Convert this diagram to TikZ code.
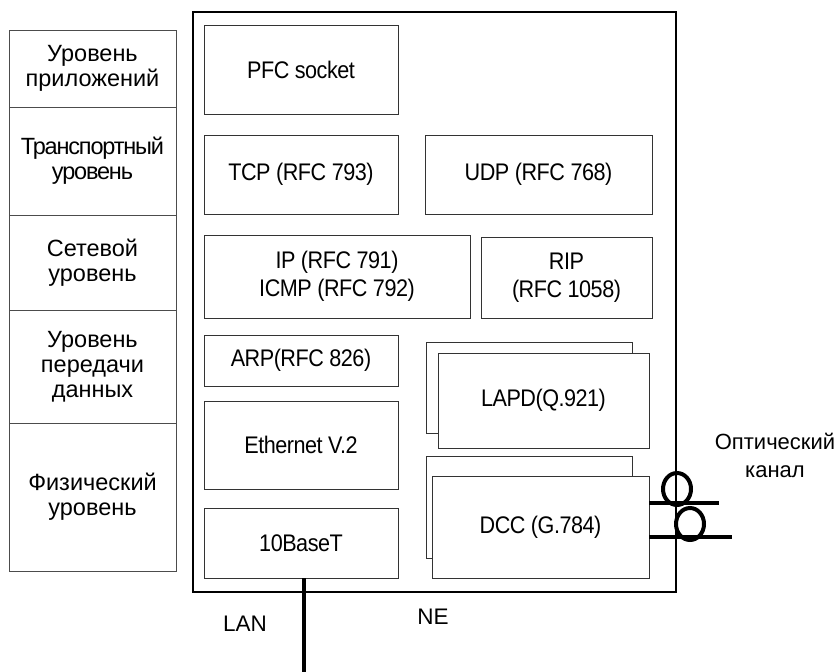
\documentclass[tikz,border=0pt]{standalone}
\usepackage{fontspec}
\setmainfont{Liberation Sans}
\newfontfamily\condfont[FakeStretch=0.9,LetterSpace=-2]{Liberation Sans}
\newfontfamily\tightfont[LetterSpace=-5]{Liberation Sans}
\begin{document}
\begin{tikzpicture}[x=1pt,y=-1pt,
  lay/.style={draw=black!70, line width=0.9pt, rectangle, inner sep=0pt, align=center,
    font=\fontsize{23.5}{25}\selectfont},
  blk/.style={draw=black!80, line width=0.9pt, rectangle, inner sep=0pt, align=center, fill=white,
    font=\condfont\fontsize{24}{28}\selectfont},
  ne/.style={draw=black, line width=1.2pt, rectangle, inner sep=0pt},
  fiber/.style={line width=4.2pt},
  lbl/.style={font=\fontsize{22.5}{24}\selectfont, align=center, inner sep=0pt}]
\useasboundingbox (0,0) rectangle (838,672);
% left column of layers
\node[lay, minimum width=167pt, minimum height=77pt]  (l1) at (92.5,68.5) {Уровень\\приложений};
\node[lay, minimum width=167pt, minimum height=108pt, font=\tightfont\fontsize{23.5}{25}\selectfont] (l2) at (92.5,161)  {Транспортный\\уровень};
\node[lay, minimum width=167pt, minimum height=95pt]  (l3) at (92.5,262.5) {Сетевой\\уровень};
\node[lay, minimum width=167pt, minimum height=113pt] (l4) at (92.5,366.5) {Уровень\\передачи\\данных};
\node[lay, minimum width=167pt, minimum height=148pt] (l5) at (92.5,497)  {Физический\\уровень};
% NE box
\node[ne, minimum width=483pt, minimum height=580pt] (ne) at (434.5,302) {};
% blocks
\node[blk, minimum width=194pt, minimum height=89pt] (pfc) at (301,69.5) {PFC socket};
\node[blk, minimum width=194pt, minimum height=79pt] (tcp) at (301,174.5) {TCP (RFC 793)};
\node[blk, minimum width=227pt, minimum height=79pt] (udp) at (538.5,174.5) {UDP (RFC 768)};
\node[blk, minimum width=266pt, minimum height=83pt] (ip) at (337,276.5) {IP (RFC 791)\\ICMP (RFC 792)};
\node[blk, minimum width=171pt, minimum height=81pt] (rip) at (566.5,277.5) {RIP\\(RFC 1058)};
\node[blk, minimum width=194pt, minimum height=51pt] (arp) at (301,360.5) {ARP(RFC 826)};
\node[blk, minimum width=194pt, minimum height=88pt] (eth) at (301,445) {Ethernet V.2};
\node[blk, minimum width=194pt, minimum height=70pt] (tenb) at (301,543) {10BaseT};
\node[blk, minimum width=206pt, minimum height=91pt] (lapdb) at (529,387.5) {};
\node[blk, minimum width=211pt, minimum height=95pt] (lapd) at (543.5,400.5) {LAPD(Q.921)};
\node[blk, minimum width=206pt, minimum height=102pt] (dccb) at (529,507) {};
\node[blk, minimum width=217pt, minimum height=102pt] (dcc) at (540.5,527) {DCC (G.784)};
% optical fibers
\coordinate (f1) at (719,503);
\coordinate (f2) at (732,537);
\draw[fiber] (dcc.east |- f1) -- (f1);
\draw[fiber] (dcc.east |- f2) -- (f2);
\draw[line width=4pt] (677,489) ellipse [x radius=14, y radius=16];
\draw[line width=4pt] (690,524) ellipse [x radius=14, y radius=16];
% LAN
\coordinate (lanend) at (304,672);
\draw[line width=4pt] (lanend |- tenb.south) -- (lanend);
% labels
\node[lbl] (lan) at (245,624) {LAN};
\node[lbl] (nelbl) at (433,617) {NE};
\node[lbl, font=\fontsize{22}{28}\selectfont] (opt) at (775,455) {Оптический\\канал};
\end{tikzpicture}
\end{document}
